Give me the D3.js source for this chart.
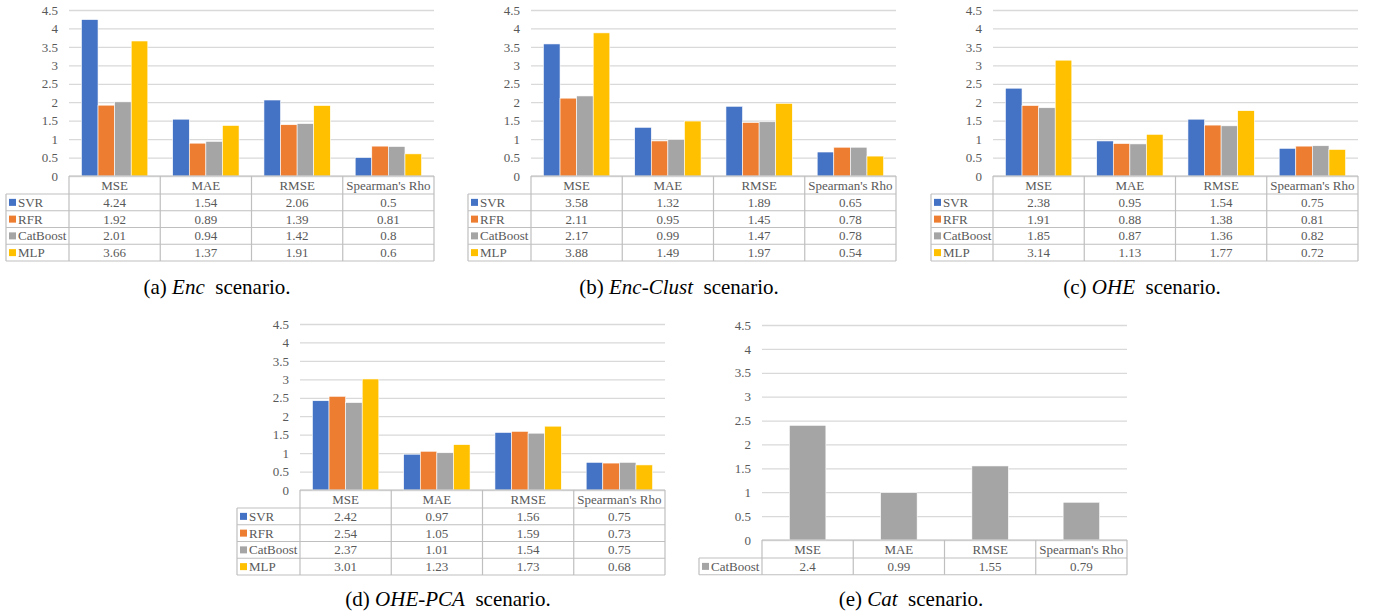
<!DOCTYPE html>
<html>
<head>
<meta charset="utf-8">
<script src="https://cdn.jsdelivr.net/npm/d3@7"></script>
</head>
<body style="margin:0; background:#fff">
<div class="wrap"></div>
<script>
const width = 1380, height = 616;
const serif = "Liberation Serif";

const metrics = ["MSE", "MAE", "RMSE", "Spearman's Rho"];
const models = ["SVR", "RFR", "CatBoost", "MLP"];
const modelColours = ["#4472C4", "#ED7D31", "#A5A5A5", "#FFC000"];
const yTicks = [0, 0.5, 1, 1.5, 2, 2.5, 3, 3.5, 4, 4.5];

// one row per model, one value per metric
const encValues = [
  [4.24, 1.54, 2.06, 0.5],
  [1.92, 0.89, 1.39, 0.81],
  [2.01, 0.94, 1.42, 0.8],
  [3.66, 1.37, 1.91, 0.6]
];
const encClustValues = [
  [3.58, 1.32, 1.89, 0.65],
  [2.11, 0.95, 1.45, 0.78],
  [2.17, 0.99, 1.47, 0.78],
  [3.88, 1.49, 1.97, 0.54]
];
const oheValues = [
  [2.38, 0.95, 1.54, 0.75],
  [1.91, 0.88, 1.38, 0.81],
  [1.85, 0.87, 1.36, 0.82],
  [3.14, 1.13, 1.77, 0.72]
];
const ohePcaValues = [
  [2.42, 0.97, 1.56, 0.75],
  [2.54, 1.05, 1.59, 0.73],
  [2.37, 1.01, 1.54, 0.75],
  [3.01, 1.23, 1.73, 0.68]
];
const catModels = ["CatBoost"];
const catValues = [
  [2.4, 0.99, 1.55, 0.79]
];

const svg = d3.select(".wrap").append("svg")
  .attr("width", width)
  .attr("height", height)
  .style("font-family", serif);

// layout of each panel
const panels = [
  { tag: "(a) ", name: "Enc", models: models, values: encValues,
    left: 69, right: 434, top: 10, bottom: 176, legendLeft: 6, capX: 217, capY: 294 },
  { tag: "(b) ", name: "Enc-Clust", models: models, values: encClustValues,
    left: 531, right: 896, top: 10, bottom: 176, legendLeft: 468, capX: 679, capY: 294 },
  { tag: "(c) ", name: "OHE", models: models, values: oheValues,
    left: 993, right: 1358, top: 10, bottom: 176, legendLeft: 931, capX: 1142, capY: 294 },
  { tag: "(d) ", name: "OHE-PCA", models: models, values: ohePcaValues,
    left: 300, right: 665, top: 324, bottom: 490, legendLeft: 237, capX: 448, capY: 606 },
  { tag: "(e) ", name: "Cat", models: catModels, values: catValues,
    left: 762, right: 1127, top: 325, bottom: 540, legendLeft: 699, capX: 911, capY: 606 }
];

const textColour = "#595959";
const gridColour = "#d9d9d9";
const tableColour = "#bfbfbf";
const fontSize = "13px";
const headerH = 18, rowH = 16.75;

function drawPanel(p) {
  const g = svg.append("g");

  const y = d3.scaleLinear().domain([0, 4.5]).range([p.bottom, p.top]);
  const x0 = d3.scaleBand().domain(metrics).range([p.left, p.right]);
  const n = p.models.length;
  const groupShare = n / (n + 1.5);
  const pad = x0.bandwidth() * (1 - groupShare) / 2;
  const x1 = d3.scaleBand().domain(p.models).range([pad, x0.bandwidth() - pad]);

  // gridlines + tick labels
  const axis = d3.axisLeft(y)
    .tickValues(yTicks)
    .tickFormat(d3.format("~g"))
    .tickSize(-(p.right - p.left))
    .tickPadding(11);
  const ag = g.append("g").attr("transform", `translate(${p.left},0)`).call(axis)
    .attr("font-family", serif)
    .attr("font-size", 13);
  ag.select(".domain").remove();
  ag.selectAll(".tick line").attr("stroke", gridColour).attr("stroke-width", 1.3);
  ag.selectAll(".tick text")
    .attr("fill", textColour)
    .style("font-size", fontSize)
    .style("font-family", serif);

  // bars
  p.models.forEach((m, i) => {
    const colour = modelColours[models.indexOf(m)];
    g.append("g").selectAll("rect")
      .data(p.values[i])
      .join("rect")
      .attr("x", (d, j) => x0(metrics[j]) + x1(m))
      .attr("y", d => y(d))
      .attr("width", x1.bandwidth())
      .attr("height", d => y(0) - y(d))
      .attr("fill", colour)
      .attr("stroke", "#fff")
      .attr("stroke-width", 0.6);
  });

  // data table
  const tableBottom = p.bottom + headerH + rowH * n;
  const tg = g.append("g");
  const line = (ax, ay, bx, by) => tg.append("line")
    .attr("x1", ax).attr("y1", ay).attr("x2", bx).attr("y2", by)
    .attr("stroke", tableColour).attr("stroke-width", 1.2);

  line(p.left, p.bottom, p.right, p.bottom);
  for (let r = 0; r <= n; r++) {
    const yy = p.bottom + headerH + rowH * r;
    line(p.legendLeft, yy, p.right, yy);
  }
  line(p.legendLeft, p.bottom + headerH, p.legendLeft, tableBottom);
  metrics.forEach(mt => line(x0(mt), p.bottom, x0(mt), tableBottom));
  line(p.right, p.bottom, p.right, tableBottom);

  tg.selectAll("text.hdr")
    .data(metrics)
    .join("text")
    .attr("class", "hdr")
    .attr("x", d => x0(d) + x0.bandwidth() / 2)
    .attr("y", p.bottom + headerH / 2 + 4.5)
    .attr("text-anchor", "middle")
    .attr("fill", textColour)
    .style("font-family", serif)
    .style("font-size", fontSize)
    .text(d => d);

  p.models.forEach((m, i) => {
    const cy = p.bottom + headerH + rowH * i + rowH / 2;
    tg.append("rect")
      .attr("x", p.legendLeft + 3)
      .attr("y", cy - 3.5)
      .attr("width", 7)
      .attr("height", 7)
      .attr("fill", modelColours[models.indexOf(m)]);
    tg.append("text")
      .attr("x", p.legendLeft + 12)
      .attr("y", cy + 4.5)
      .attr("fill", textColour)
      .style("font-family", serif)
      .style("font-size", fontSize)
      .text(m);
    tg.append("g").selectAll("text")
      .data(p.values[i])
      .join("text")
      .attr("x", (d, j) => x0(metrics[j]) + x0.bandwidth() / 2)
      .attr("y", cy + 4.5)
      .attr("text-anchor", "middle")
      .attr("fill", textColour)
      .style("font-family", serif)
      .style("font-size", fontSize)
      .text(d => d);
  });

  // caption
  const cap = g.append("text")
    .attr("x", p.capX)
    .attr("y", p.capY)
    .attr("text-anchor", "middle")
    .attr("fill", "#000")
    .style("font-family", serif)
    .style("font-size", "21px");
  cap.append("tspan").text(p.tag);
  cap.append("tspan").style("font-style", "italic").text(p.name);
  cap.append("tspan").text("\u00a0 scenario.");
}

panels.forEach(drawPanel);
</script>
</body>
</html>
